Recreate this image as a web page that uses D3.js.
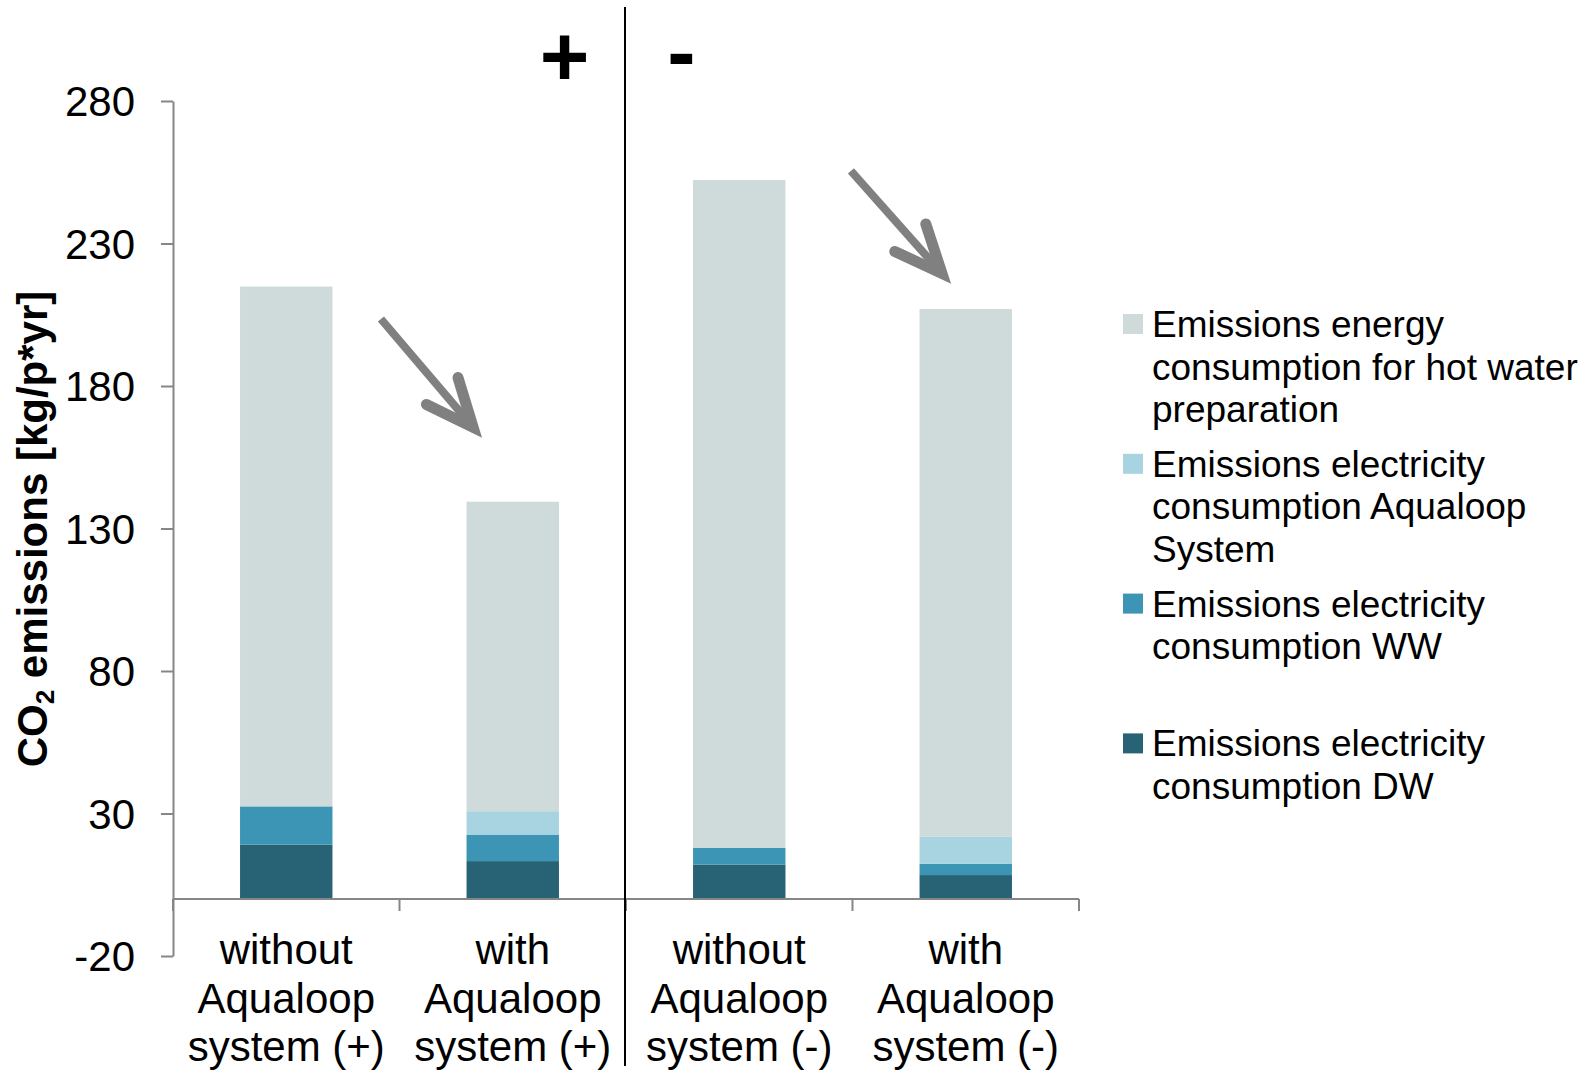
<!DOCTYPE html>
<html>
<head>
<meta charset="utf-8">
<script src="https://cdn.jsdelivr.net/npm/d3@7"></script>
<style>
  html, body { margin: 0; padding: 0; background: #fff; }
  svg { display: block; font-family: "Liberation Sans", Arial, sans-serif; }
</style>
</head>
<body>
<svg id="chart" width="1592" height="1074"></svg>
<script>
// ---- data ----
const categories = ["without (+)", "with (+)", "without (-)", "with (-)"];
const categoryLabels = [
  ["without", "Aqualoop", "system (+)"],
  ["with", "Aqualoop", "system (+)"],
  ["without", "Aqualoop", "system (-)"],
  ["with", "Aqualoop", "system (-)"]
];
const seriesKeys = ["dw", "ww", "aq", "energy"];
const seriesNames = {
  energy: ["Emissions energy", "consumption for hot water", "preparation"],
  aq: ["Emissions electricity", "consumption Aqualoop", "System"],
  ww: ["Emissions electricity", "consumption WW"],
  dw: ["Emissions electricity", "consumption DW"]
};
const dw     = [19.1, 13.3, 12.1, 8.4];
const ww     = [13.4, 9.3, 5.8, 4.0];
const aq     = [0, 8.2, 0, 9.4];
const energy = [182.4, 108.6, 234.4, 185.2];
const yTicks = [-20, 30, 80, 130, 180, 230, 280];
const legendOrder = ["energy", "aq", "ww", "dw"];
// annotation arrows in (category-index units, value units)
const arrows = [
  { from: [0.918, 203.5], to: [1.325, 165.5] },
  { from: [2.993, 255.5], to: [3.395, 219.5] }
];

const colors = { energy: "#CFDBDB", aq: "#A8D3E0", ww: "#3C95B4", dw: "#276275" };

const rows = categories.map((c, i) => ({ cat: c, dw: dw[i], ww: ww[i], aq: aq[i], energy: energy[i] }));

const svg = d3.select("#chart");
const x = d3.scaleBand().domain(categories).range([173, 1079]).paddingInner(0.592).paddingOuter(0.296);
const y = d3.scaleLinear().domain([-20, 280]).range([956, 101]);
const xi = d3.scaleLinear().domain([0, 4]).range([173, 1079]);
const axisColor = "#868686";

// bars
const stacked = d3.stack().keys(seriesKeys)(rows);
svg.append("g").selectAll("g").data(stacked).join("g")
  .attr("fill", d => colors[d.key])
  .selectAll("rect").data(d => d).join("rect")
  .attr("x", d => x(d.data.cat))
  .attr("width", x.bandwidth())
  .attr("y", d => y(d[1]))
  .attr("height", d => Math.max(0, y(d[0]) - y(d[1])));

// y axis
const yAxis = svg.append("g").attr("transform", `translate(${x.range()[0]},0)`)
  .call(d3.axisLeft(y).tickValues(yTicks).tickFormat(d => String(d))
    .tickSize(12).tickPadding(26).tickSizeOuter(0));
yAxis.select(".domain").attr("stroke", axisColor).attr("stroke-width", 2);
yAxis.selectAll(".tick line").attr("stroke", axisColor).attr("stroke-width", 2);
yAxis.selectAll(".tick text").attr("font-size", 42).attr("fill", "#000")
  .attr("font-family", "'Liberation Sans', Arial, sans-serif").attr("dy", "0.35em");

// x axis at zero
const step = x.step();
svg.append("line").attr("x1", x.range()[0]).attr("x2", x.range()[1])
  .attr("y1", y(0)).attr("y2", y(0)).attr("stroke", axisColor).attr("stroke-width", 2);
svg.append("g").selectAll("line").data(d3.range(5)).join("line")
  .attr("x1", i => x.range()[0] + i * step).attr("x2", i => x.range()[0] + i * step)
  .attr("y1", y(0)).attr("y2", y(0) + 12)
  .attr("stroke", axisColor).attr("stroke-width", 2);

// category labels
const catG = svg.append("g").selectAll("text").data(categories).join("text")
  .attr("x", d => x(d) + x.bandwidth() / 2)
  .attr("y", 964)
  .attr("text-anchor", "middle")
  .attr("font-size", 42)
  .attr("fill", "#000");
catG.each(function(d, i) {
  const t = d3.select(this);
  categoryLabels[i].forEach((line, j) => {
    t.append("tspan").attr("x", x(d) + x.bandwidth() / 2).attr("y", 964 + j * 48.5).text(line);
  });
});

// divider
const divX = x.range()[0] + 2 * step - 1;
svg.append("line").attr("x1", divX).attr("x2", divX).attr("y1", 7).attr("y2", 1066)
  .attr("stroke", "#000").attr("stroke-width", 2);

// + and - markers
svg.append("text").attr("x", 564.5).attr("y", 86).attr("text-anchor", "middle")
  .attr("font-size", 85).attr("font-weight", "bold").text("+");
svg.append("text").attr("x", 681.5).attr("y", 81).attr("text-anchor", "middle")
  .attr("font-size", 85).attr("font-weight", "bold").text("-");

// arrows
const ag = svg.append("g").attr("stroke", "#808080").attr("fill", "none");
arrows.forEach(a => {
  const x0 = xi(a.from[0]), y0 = y(a.from[1]);
  const x1 = xi(a.to[0]), y1 = y(a.to[1]);
  const ang = Math.atan2(y1 - y0, x1 - x0);
  const len = 52, spread = 0.41;
  const bx1 = x1 - len * Math.cos(ang - spread), by1 = y1 - len * Math.sin(ang - spread);
  const bx2 = x1 - len * Math.cos(ang + spread), by2 = y1 - len * Math.sin(ang + spread);
  const sx = x1 - 10 * Math.cos(ang), sy = y1 - 10 * Math.sin(ang);
  ag.append("line").attr("x1", x0).attr("y1", y0).attr("x2", sx).attr("y2", sy)
    .attr("stroke-width", 8);
  ag.append("path")
    .attr("d", `M${bx1},${by1}L${x1},${y1}L${bx2},${by2}`)
    .attr("stroke-width", 11).attr("stroke-linecap", "round").attr("stroke-linejoin", "miter")
    .attr("stroke-miterlimit", 10);
});

// y axis title
const tx = 47, ty = 529;
const title = svg.append("text").attr("x", tx).attr("y", ty)
  .attr("transform", `rotate(-90,${tx},${ty})`)
  .attr("text-anchor", "middle").attr("font-size", 42).attr("font-weight", "bold");
title.append("tspan").text("CO");
title.append("tspan").attr("font-size", 26).attr("dy", 7).text("2");
title.append("tspan").attr("dy", -7).text(" emissions [kg/p*yr]");

// legend
const legendTop = 314, legendStep = 139.8;
const lg = svg.append("g");
legendOrder.forEach((k, i) => {
  const top = legendTop + i * legendStep;
  lg.append("rect").attr("x", 1123).attr("y", top).attr("width", 20).attr("height", 20)
    .attr("fill", colors[k]);
  const t = lg.append("text").attr("font-size", 37).attr("fill", "#000");
  seriesNames[k].forEach((line, j) => {
    t.append("tspan").attr("x", 1152).attr("y", top + 23 + j * 42.6).text(line);
  });
});
</script>
</body>
</html>
